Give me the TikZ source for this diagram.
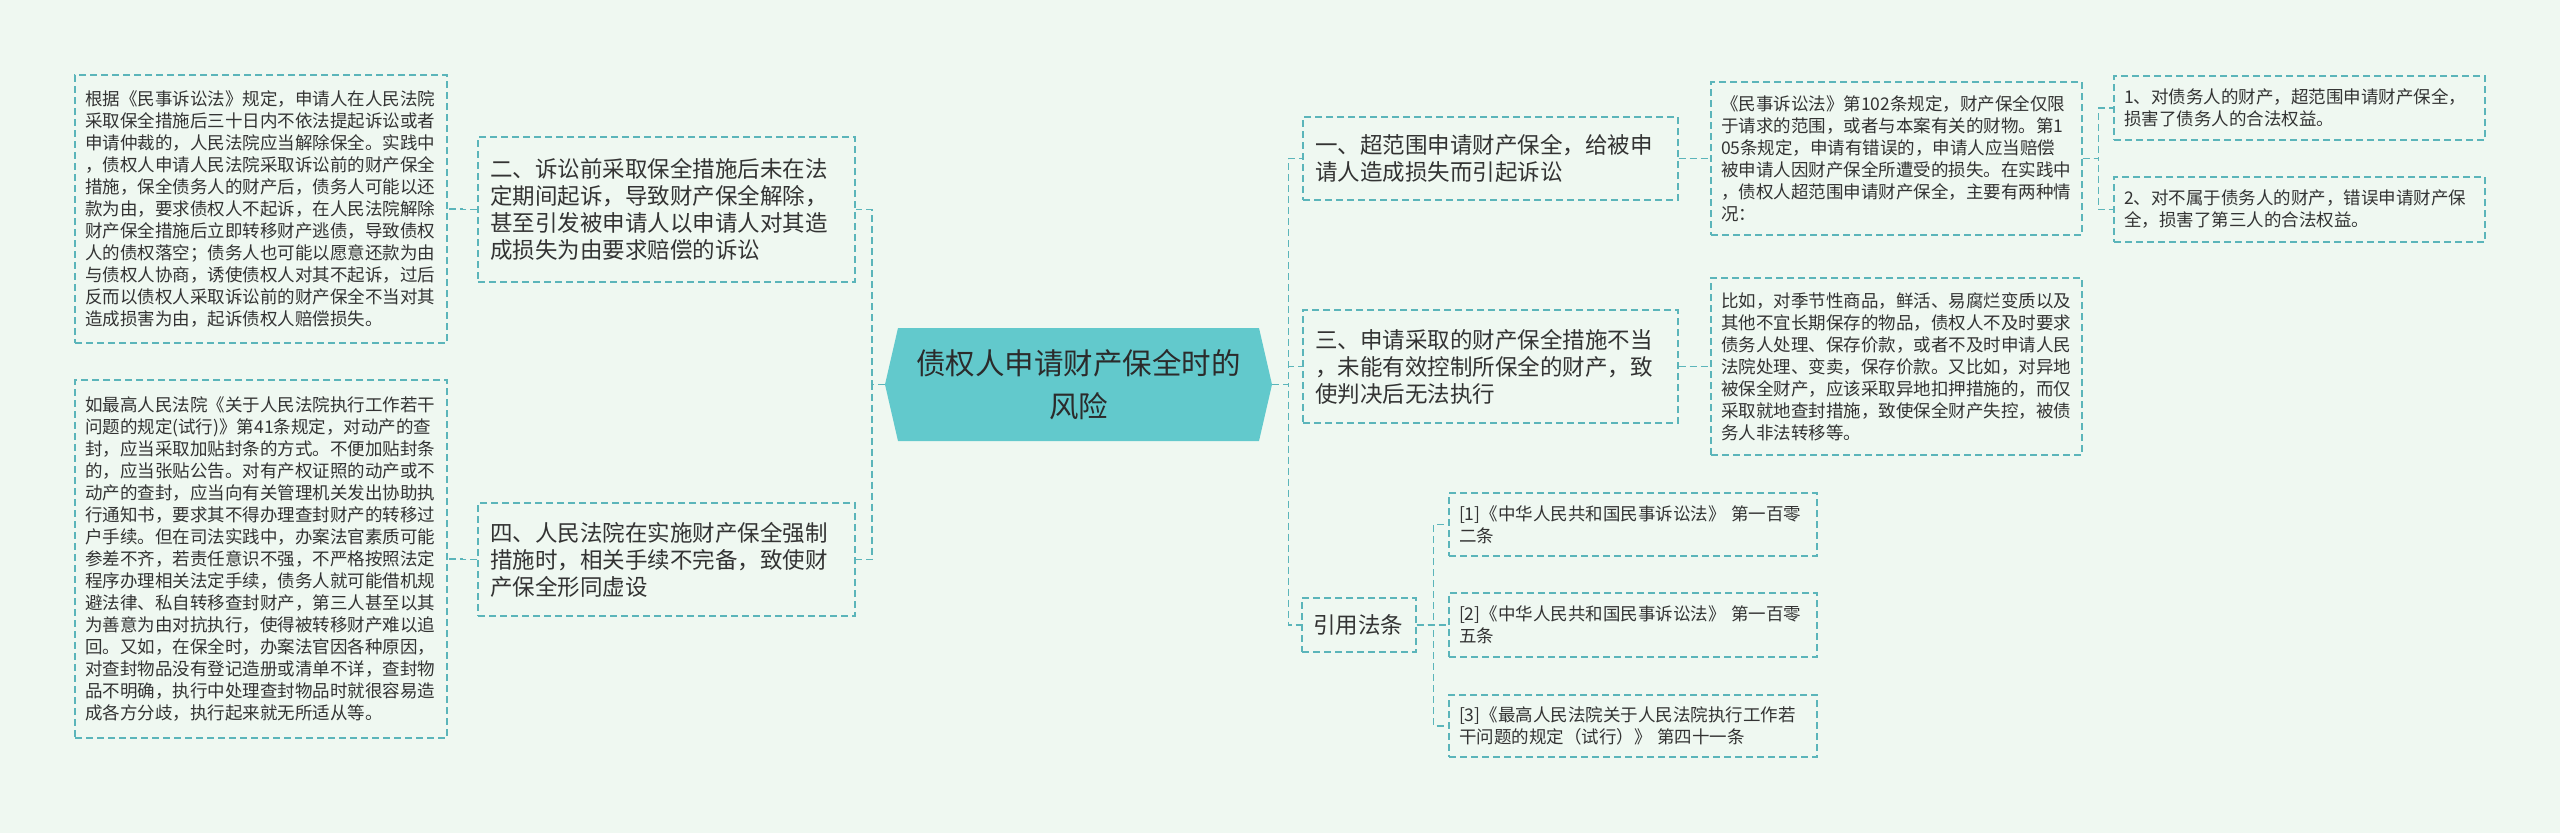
\documentclass[tikz,border=0pt]{standalone}
\usepackage{fontspec}
\setmainfont{Noto Sans CJK SC}
\definecolor{bgc}{HTML}{EFF8F1}
\definecolor{rootc}{HTML}{62C9CC}
\definecolor{linec}{HTML}{5BB5BA}
\definecolor{txtc}{HTML}{333333}
\newcommand{\fsz}[2]{\fontsize{#1pt}{#2pt}\selectfont}

\begin{document}
\begin{tikzpicture}[x=1pt, y=-1pt,
  root/.style={minimum width=387pt, minimum height=113pt, inner sep=0pt, align=center,
               font=\fsz{29.5}{43}, text=txtc!85!black,
               path picture={\fill[rootc] (path picture bounding box.west)
                 -- ([xshift=13pt]path picture bounding box.north west)
                 -- ([xshift=-13pt]path picture bounding box.north east)
                 -- (path picture bounding box.east)
                 -- ([xshift=-13pt]path picture bounding box.south east)
                 -- ([xshift=13pt]path picture bounding box.south west) -- cycle;}},
  topic/.style={draw=linec, line width=1.4pt, dash pattern=on 7pt off 4pt, inner xsep=12pt,
                inner ysep=0pt, align=left, text=txtc, font=\fsz{22.5}{27}, text width=#1},
  leaf/.style={draw=linec, line width=1.4pt, dash pattern=on 7pt off 4pt, inner xsep=10pt,
               inner ysep=0pt, align=left, text=txtc, font=\fsz{17.5}{22}, text width=#1},
  law/.style={leaf=#1, font=\fsz{17.5}{22}},
  link/.style={draw=linec, line width=1.4pt, dash pattern=on 7pt off 4pt}
]
  \fill[bgc] (0,0) rectangle (2560,833);

  %-- Centre
  \node[root] (root) at (1078.5, 384.5) {债权人申请财产保全时的\\风险};

  %-- Gauche
  \node[topic=353, minimum height=145pt] (m2) at (666.5, 209.5)
    {二、诉讼前采取保全措施后未在法\\定期间起诉，导致财产保全解除，\\甚至引发被申请人以申请人对其造\\成损失为由要求赔偿的诉讼};
  \node[topic=353, minimum height=113pt] (m4) at (666.5, 559.5)
    {四、人民法院在实施财产保全强制\\措施时，相关手续不完备，致使财\\产保全形同虚设};
  \node[leaf=352, minimum height=268pt] (l1) at (261, 209)
    {根据《民事诉讼法》规定，申请人在人民法院\\采取保全措施后三十日内不依法提起诉讼或者\\申请仲裁的，人民法院应当解除保全。实践中\\，债权人申请人民法院采取诉讼前的财产保全\\措施，保全债务人的财产后，债务人可能以还\\款为由，要求债权人不起诉，在人民法院解除\\财产保全措施后立即转移财产逃债，导致债权\\人的债权落空；债务人也可能以愿意还款为由\\与债权人协商，诱使债权人对其不起诉，过后\\反而以债权人采取诉讼前的财产保全不当对其\\造成损害为由，起诉债权人赔偿损失。};
  \node[leaf=352, minimum height=358pt] (l2) at (261, 559)
    {如最高人民法院《关于人民法院执行工作若干\\问题的规定(试行)》第41条规定，对动产的查\\封，应当采取加贴封条的方式。不便加贴封条\\的，应当张贴公告。对有产权证照的动产或不\\动产的查封，应当向有关管理机关发出协助执\\行通知书，要求其不得办理查封财产的转移过\\户手续。但在司法实践中，办案法官素质可能\\参差不齐，若责任意识不强，不严格按照法定\\程序办理相关法定手续，债务人就可能借机规\\避法律、私自转移查封财产，第三人甚至以其\\为善意为由对抗执行，使得被转移财产难以追\\回。又如，在保全时，办案法官因各种原因，\\对查封物品没有登记造册或清单不详，查封物\\品不明确，执行中处理查封物品时就很容易造\\成各方分歧，执行起来就无所适从等。};

  %-- Droite
  \node[topic=351, minimum height=83pt] (r1) at (1490.5, 158.5)
    {一、超范围申请财产保全，给被申\\请人造成损失而引起诉讼};
  \node[topic=351, minimum height=113pt] (r3) at (1490.5, 366.5)
    {三、申请采取的财产保全措施不当\\，未能有效控制所保全的财产，致\\使判决后无法执行};
  \node[topic=92, inner xsep=11pt, minimum height=54pt] (cite) at (1359, 625)
    {引用法条};
  \node[leaf=351, minimum height=153pt] (d1) at (1896.5, 158.5)
    {《民事诉讼法》第102条规定，财产保全仅限\\于请求的范围，或者与本案有关的财物。第1\\05条规定，申请有错误的，申请人应当赔偿\\被申请人因财产保全所遭受的损失。在实践中\\，债权人超范围申请财产保全，主要有两种情\\况：};
  \node[leaf=351, minimum height=177pt] (d3) at (1896.5, 366.5)
    {比如，对季节性商品，鲜活、易腐烂变质以及\\其他不宜长期保存的物品，债权人不及时要求\\债务人处理、保存价款，或者不及时申请人民\\法院处理、变卖，保存价款。又比如，对异地\\被保全财产，应该采取异地扣押措施的，而仅\\采取就地查封措施，致使保全财产失控，被债\\务人非法转移等。};
  \node[leaf=351, minimum height=64pt] (s1) at (2299.5, 108)
    {1、对债务人的财产，超范围申请财产保全，\\损害了债务人的合法权益。};
  \node[leaf=351, minimum height=65pt] (s2) at (2299.5, 209.5)
    {2、对不属于债务人的财产，错误申请财产保\\全，损害了第三人的合法权益。};
  \node[law=348, minimum height=63pt] (c1) at (1633, 524.5)
    {[1]《中华人民共和国民事诉讼法》 第一百零\\二条};
  \node[law=348, minimum height=64pt] (c2) at (1633, 625)
    {[2]《中华人民共和国民事诉讼法》 第一百零\\五条};
  \node[law=348, minimum height=62pt] (c3) at (1633, 726)
    {[3]《最高人民法院关于人民法院执行工作若\\干问题的规定（试行）》 第四十一条};

  %-- Liens
  \draw[link] (root.west) -- ++(-13,0) |- (m2.east);
  \draw[link] (root.west) -- ++(-13,0) |- (m4.east);
  \draw[link] (m2.west)   -- ++(-15,0) |- (l1.east);
  \draw[link] (m4.west)   -- ++(-15,0) |- (l2.east);
  \draw[link] (root.east) -- ++(16,0)  |- (r1.west);
  \draw[link] (root.east) -- ++(16,0)  |- (r3.west);
  \draw[link] (root.east) -- ++(16,0)  |- (cite.west);
  \draw[link] (r1.east)   -- ++(16,0)  |- (d1.west);
  \draw[link] (r3.east)   -- ++(16,0)  |- (d3.west);
  \draw[link] (d1.east)   -- ++(16,0)  |- (s1.west);
  \draw[link] (d1.east)   -- ++(16,0)  |- (s2.west);
  \draw[link] (cite.east) -- ++(17,0)  |- (c1.west);
  \draw[link] (cite.east) -- ++(17,0)  |- (c2.west);
  \draw[link] (cite.east) -- ++(17,0)  |- (c3.west);
\end{tikzpicture}
\end{document}
